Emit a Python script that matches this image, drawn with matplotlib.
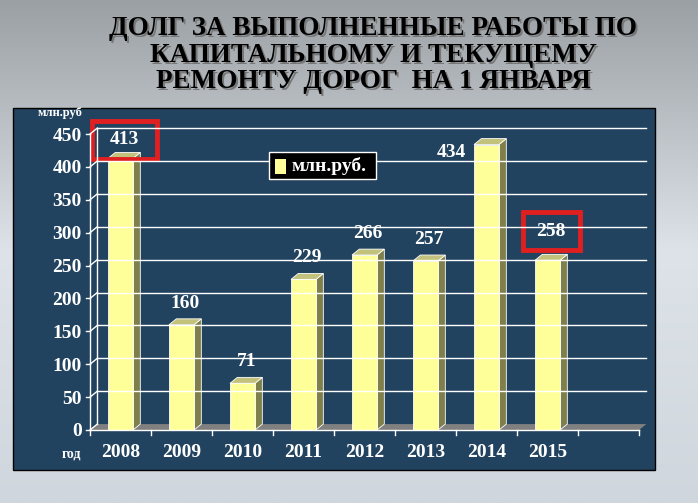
import numpy as np
import matplotlib.pyplot as plt
from matplotlib.colors import LinearSegmentedColormap
from matplotlib.patches import Polygon, Rectangle

years = ["2008", "2009", "2010", "2011", "2012", "2013", "2014", "2015"]
debt = [413, 160, 71, 229, 266, 257, 434, 258]
yticks = [0, 50, 100, 150, 200, 250, 300, 350, 400, 450]
boxed = [0, 7]

serif = "Liberation Serif"
W, H = 698, 503
PANEL = "#21435f"
fig = plt.figure(figsize=(W / 100, H / 100), dpi=100)

# light photo-like background + dark chart panel
bg = fig.add_axes([0, 0, 1, 1], zorder=-5)
grad = np.linspace(0, 1, 256)[:, None]
bg.imshow(grad, cmap=LinearSegmentedColormap.from_list("bg", ["#9aa0a4", "#dde3e8", "#cfd6dd"]),
          aspect="auto", extent=[0, 1, 0, 1])
bg.set_xlim(0, 1)
bg.set_ylim(0, 1)
bg.set_axis_off()
bg.add_patch(Rectangle((13 / W, 1 - 470 / H), 642 / W, 362 / H, facecolor=PANEL,
                       edgecolor="black", lw=1, zorder=2))

for dx, col in [(2, "#777777"), (0, "black")]:
    fig.text(373 / W + dx / W, 1 - 55 / H - dx / H,
             "ДОЛГ ЗА ВЫПОЛНЕННЫЕ РАБОТЫ ПО\nКАПИТАЛЬНОМУ И ТЕКУЩЕМУ\nРЕМОНТУ ДОРОГ  НА 1 ЯНВАРЯ",
             ha="center", va="center", fontsize=19.5, fontweight="bold",
             family=serif, color=col, linespacing=1.1)

ax = fig.add_axes([90 / W, 1 - 430 / H, 549 / W, 296 / H])
ax.set_xlim(-0.5, 8.5)
ax.set_ylim(0, 450)
ax.patch.set_alpha(0)
for s in ax.spines.values():
    s.set_visible(False)

w, ddx, ddy = 0.41, 0.12, 9
# floor and back-wall grid
ax.add_patch(Polygon([(-0.5, 0), (-0.5 + ddx, ddy), (8.5 + ddx, ddy), (8.5, 0)],
                     facecolor="#808080", edgecolor="none", clip_on=False))
for t in yticks[1:]:
    ax.plot([-0.5 + ddx, 8.5 + ddx], [t + ddy, t + ddy], color="white", lw=1, clip_on=False)
for t in yticks:
    ax.plot([-0.5, -0.5 + ddx], [t, t + ddy], color="white", lw=1, clip_on=False)
    ax.plot([-0.56, -0.5], [t, t], color="white", lw=1, clip_on=False)
ax.plot([-0.5 + ddx, -0.5 + ddx], [ddy, 450 + ddy], color="white", lw=1, clip_on=False)
ax.plot([-0.5, -0.5], [0, 450], color="white", lw=1, clip_on=False)
ax.plot([-0.5, 8.5], [0, 0], color="white", lw=1, clip_on=False)
for k in range(10):
    ax.plot([k - 0.5, k - 0.5], [0, -8], color="white", lw=1, clip_on=False)

for i, v in enumerate(debt):
    x0 = i - w / 2
    ax.add_patch(Polygon([(x0 + w, 0), (x0 + w + ddx, ddy), (x0 + w + ddx, v + ddy), (x0 + w, v)],
                         facecolor="#7f7f4c", edgecolor="white", lw=0.6, clip_on=False))
    ax.add_patch(Polygon([(x0, v), (x0 + ddx, v + ddy), (x0 + w + ddx, v + ddy), (x0 + w, v)],
                         facecolor="#c2c27c", edgecolor="white", lw=0.6, clip_on=False))
    ax.add_patch(Rectangle((x0, 0), w, v, facecolor="#ffff99", edgecolor="white", lw=0.6,
                           clip_on=False))
    if i == 6:
        lx, ly = i - 0.57, v - 12
    else:
        lx, ly = i + ddx / 2, v + (28 if i == 0 else 44 if i == 7 else 33)
    ax.text(lx, ly, str(v), ha="center", va="center", color="white",
            fontsize=14, fontweight="bold", family=serif)
    if i in boxed:
        bw = 1.07 if i == 0 else 0.93
        ax.add_patch(Rectangle((lx - bw / 2, ly - 29), bw, 58, fill=False,
                               edgecolor="#e02020", lw=3.5, clip_on=False))

ax.set_xticks(range(len(years)))
ax.set_xticklabels(years)
ax.set_yticks(yticks)
ax.tick_params(colors="white", labelsize=14, length=0)
ax.tick_params(axis="x", pad=10)
ax.tick_params(axis="y", pad=6)
for lab in ax.get_xticklabels() + ax.get_yticklabels():
    lab.set_fontweight("bold")
    lab.set_family(serif)

fig.text(38 / W, 1 - 116 / H, "млн.руб", color="white", fontsize=9, fontweight="bold", family=serif)
fig.text(62 / W, 1 - 458 / H, "год", color="white", fontsize=10, fontweight="bold", family=serif)

# legend box
fig.patches.append(Rectangle((269 / W, 1 - 179 / H), 107 / W, 27 / H, transform=fig.transFigure,
                             facecolor="black", edgecolor="white", lw=1))
fig.patches.append(Rectangle((275 / W, 1 - 174 / H), 11 / W, 15 / H, transform=fig.transFigure,
                             facecolor="#ffff99", edgecolor="none"))
fig.text(292 / W, 1 - 166 / H, "млн.руб.", color="white", fontsize=14, fontweight="bold",
         family=serif, va="center")

fig.savefig("out.png", dpi=100)
